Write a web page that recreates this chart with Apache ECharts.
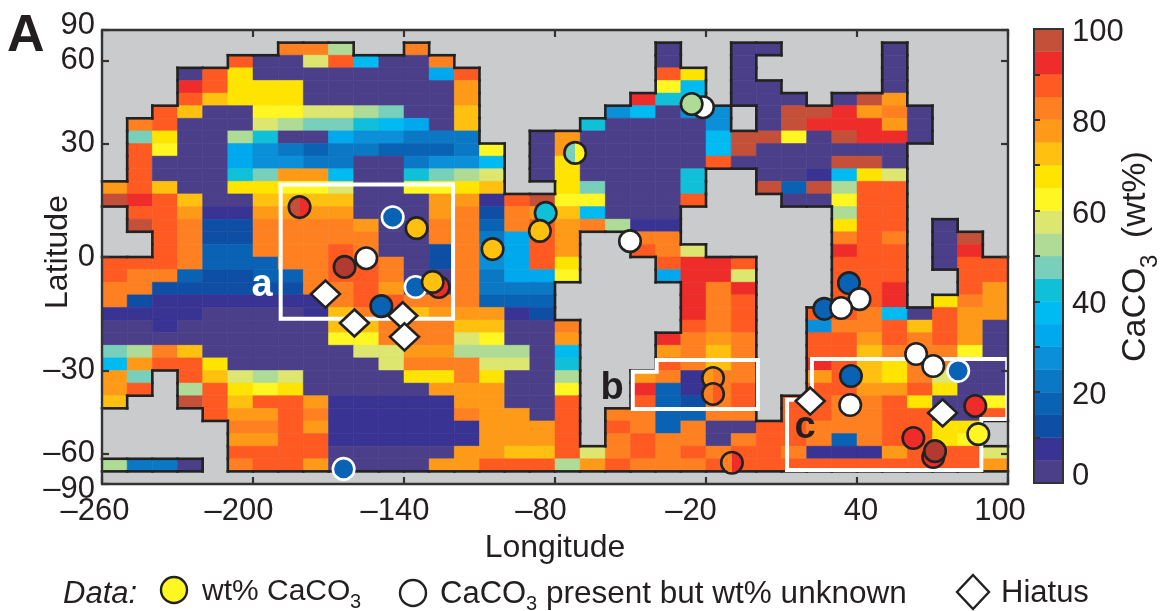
<!DOCTYPE html>
<html><head><meta charset="utf-8">
<style>html,body{margin:0;padding:0;background:#fff}#c{width:1166px;height:611px}</style>
<script src="https://cdn.jsdelivr.net/npm/echarts@6/dist/echarts.min.js"></script>
</head><body><div id="c"></div>
<script>
const _ = null;
const lonTicks = [-260,-200,-140,-80,-20,40,100];
const latTicks = [-90,-60,-30,0,30,60,90];
const barTicks = [0,10,20,30,40,50,60,70,80,90,100];
const barLabels = [0,20,40,60,80,100];
const levelColors = ['#4b3f8a','#393393','#0f4ea5','#0a62b5','#0a78c4','#0a8fd8','#00a8ee','#00baf2','#10c0d8','#78cfba','#aedc96','#dde66e','#fff622','#ffe400','#ffc010','#ff9a18','#ff8020','#ff5a22','#ee2c2a','#c4503a'];
// CaCO3 wt% per 10 deg x equal-area cell, north to south, null = land
const wtRows = [
[_,_,_,_,_,_,_,_,_,_,_,_,_,_,_,_,_,_,_,_,_,_,_,_,_,_,_,_,_,_,_,_,_,_,_,_],
[_,_,_,_,_,_,_,83,83,53,_,_,83,_,_,_,_,_,_,_,_,_,3,_,_,3,3,_,_,_,_,3,_,_,_,_],
[_,_,_,_,_,88,3,3,58,88,38,3,3,83,_,_,_,_,_,_,_,_,3,_,_,3,_,_,_,_,_,3,_,_,_,_],
[_,_,_,3,88,68,3,3,3,3,3,3,3,33,88,_,_,_,_,_,_,_,88,68,_,3,_,_,_,_,_,3,_,_,_,_],
[_,_,_,93,88,68,68,68,3,3,3,3,3,3,78,_,_,_,_,_,_,_,63,38,_,3,3,_,_,_,_,3,_,_,_,_],
[_,_,_,88,73,68,68,68,3,3,3,3,3,3,78,_,_,_,_,_,_,93,43,43,_,3,3,3,_,3,98,78,_,_,_,_],
[_,_,88,73,3,3,63,63,58,58,53,48,3,3,73,_,_,_,_,_,28,38,3,28,28,_,3,98,98,93,78,83,3,_,_,_],
[_,83,88,3,3,3,58,53,48,48,43,38,33,3,73,_,_,_,_,43,3,3,3,3,28,_,3,98,93,93,93,78,3,_,_,_],
[_,48,68,3,3,53,43,3,3,33,28,28,23,23,23,_,_,3,78,3,3,3,3,3,38,98,98,63,3,98,93,93,3,_,_,_],
[_,88,63,3,3,33,28,23,18,23,23,18,18,18,23,63,_,3,78,3,3,3,3,3,38,98,3,3,3,3,3,3,_,_,_,_],
[_,88,3,3,3,33,28,28,23,23,3,3,23,28,28,38,_,3,68,3,3,3,3,3,88,3,3,3,3,98,98,3,_,_,_,_],
[_,88,3,3,3,43,48,78,78,38,3,3,43,48,53,58,_,3,68,3,3,3,3,43,_,_,3,3,8,38,68,58,_,_,_,_],
[78,88,73,3,3,68,68,63,63,58,3,3,63,63,68,73,_,_,68,48,3,3,3,43,_,_,98,18,98,53,88,88,_,_,_,_],
[98,93,88,73,3,3,73,73,73,73,3,3,3,78,78,8,88,98,63,63,3,3,3,88,_,_,_,3,3,63,88,88,_,_,_,_],
[_,88,88,78,8,8,78,78,78,78,3,3,3,78,83,13,83,78,73,38,3,3,3,_,_,_,_,_,_,53,88,88,_,_,_,_],
[_,98,88,83,13,13,83,83,83,83,78,3,3,83,83,18,83,88,78,83,53,8,8,_,_,_,_,_,_,68,88,88,_,3,_,_],
[_,_,88,83,13,13,83,83,83,83,83,3,3,83,83,23,33,88,78,_,_,83,83,_,_,_,_,_,_,83,88,83,_,3,98,_],
[_,_,88,83,18,18,83,83,83,88,83,3,3,13,83,28,33,88,78,_,_,88,83,58,_,_,_,_,_,93,88,88,_,3,93,_],
[88,88,88,83,18,18,18,83,83,88,88,83,3,13,83,28,33,88,68,_,_,_,88,93,93,88,_,_,_,88,88,88,_,3,88,88],
[88,83,83,18,13,13,18,18,83,88,88,83,3,3,83,23,33,33,63,_,_,_,33,93,93,58,_,_,_,88,88,88,_,_,88,88],
[83,83,13,13,13,13,13,13,83,83,88,78,3,3,83,23,23,23,_,_,_,_,_,93,83,93,_,_,_,88,88,93,_,_,88,78],
[83,13,8,8,8,8,8,8,8,83,88,88,83,83,83,18,18,18,_,_,_,_,_,93,83,88,_,_,_,88,88,93,_,68,83,78],
[8,8,8,8,3,3,3,3,8,73,83,88,73,78,78,78,8,13,_,_,_,_,_,93,83,88,_,_,88,88,83,38,3,88,78,78],
[3,3,8,3,3,3,3,3,3,73,73,83,83,83,73,73,3,3,83,_,_,_,_,88,83,88,_,_,28,83,83,88,73,88,78,3],
[3,3,3,3,3,3,3,3,3,63,63,83,83,83,58,63,3,3,78,_,_,_,93,83,78,83,_,_,88,88,78,88,83,88,78,3],
[48,53,83,73,3,3,3,3,3,3,58,58,78,78,53,53,53,3,38,_,_,_,78,83,73,83,_,_,88,88,73,83,83,83,63,3],
[38,78,88,88,68,3,3,3,3,3,3,58,83,83,83,58,58,3,43,_,_,_,88,83,73,83,_,_,93,88,73,68,83,83,3,3],
[78,48,_,88,73,58,53,58,3,3,3,3,68,68,83,68,3,3,53,_,_,78,83,8,83,83,_,_,78,88,73,68,83,58,3,3],
[78,88,_,53,88,68,63,68,3,3,3,3,3,78,78,78,3,3,63,_,_,93,18,8,83,88,_,_,88,88,78,78,88,68,3,3],
[73,_,_,98,88,73,88,88,78,8,8,8,8,8,78,78,3,3,88,_,_,88,18,13,83,88,_,88,88,83,83,88,68,3,3,63],
[_,_,_,_,88,78,78,88,83,8,8,8,8,8,83,78,78,3,88,_,83,83,18,18,83,83,_,88,88,83,83,88,88,3,3,88],
[_,_,_,_,_,83,83,88,78,8,8,8,8,8,8,78,78,78,88,_,88,83,18,83,3,3,88,88,83,83,83,88,88,68,68,_],
[_,_,_,_,_,78,78,88,88,8,8,8,8,8,8,78,78,78,88,_,83,88,83,83,3,83,88,88,83,18,83,88,88,68,63,_],
[_,_,_,_,_,88,88,88,88,3,3,3,3,3,78,78,73,73,88,58,83,88,83,88,83,88,88,83,8,8,8,78,88,88,88,58],
[53,23,23,3,_,83,88,88,78,3,3,3,3,78,78,88,88,88,53,78,88,83,83,83,88,88,88,88,88,88,88,88,88,88,88,78],
[_,_,_,_,_,_,_,_,_,_,_,_,_,_,_,_,_,_,_,_,_,_,_,_,_,_,_,_,_,_,_,_,_,_,_,_]
];
// core sites: lon, lat, left-half wt%, right-half wt% (null = present but unknown), ring colour
const siteLon   = [-181.5,-144.5,-135,-163.6,-155,-104.8,-83.7,-86,-72,-21.2,-25.7,-50.2,-135.4,-126.2,-128.6,-149,-17.2,-17.2,-9.7,-164,36.8,27,41,33.7,80.2,63.5,70.3,37.6,37.3,87,88.2,62.4,70.3,71];
const siteLat   = [12.7,10.1,7.3,-2.5,-0.3,2,11.2,6.6,27.3,41.3,42.4,4,-7.6,-7.6,-6.3,-12.5,-32.2,-37.1,-65,-69,-6.6,-13.2,-10.7,-13,-30.1,-25.3,-28.7,-31.6,-40.7,-41,-51.3,-52.9,-61.8,-58.8];
const siteLeft  = [98,18,73,99,_,73,43,73,48,_,53,_,18,93,73,18,78,83,83,18,18,18,_,_,18,_,_,18,_,93,63,93,93,99];
const siteRight = [93,18,73,99,_,73,43,73,63,_,53,_,18,93,73,18,83,88,93,18,18,18,_,_,18,_,_,18,_,93,63,93,93,99];
const siteWhiteRing = [0,1,0,0,0,0,0,0,0,0,0,0,1,0,0,0,0,0,0,1,0,0,0,0,1,0,0,0,0,0,0,0,0,0];
const hiatusLon = [-171.2,-159.7,-140.5,-139.8,21.4,74];
const hiatusLat = [-9.4,-16.9,-15,-20.6,-39.4,-43.4];
// white outlined regions a, b, c as lon/lat vertices
const boxA = {lon:[-189,-120.5,-120.5,-189], lat:[18.6,18.6,-15.8,-15.8]};
const boxB = {lon:[-49.1,-39.6,-39.6,0.6,0.6,-49.1], lat:[-30.4,-30.4,-27,-27,-42,-42]};
const boxC = {lon:[22.1,99.7,99.7,89.4,89.4,12.2,12.2,22.1], lat:[-26.7,-26.7,-45.5,-45.5,-69.7,-69.7,-39,-39]};
// horizontal px nudges of the lon tick labels as printed
const lonLabelShift = [-7,-14,-9,-14,-15,4,-8];

const INK = '#231f20', FONT = '"Liberation Sans", Arial, sans-serif', TICK = 31;
const sinLat = d => Math.sin(d * Math.PI / 180);
const colorOf = v => levelColors[Math.min(19, Math.floor(v / 5))];
const siteColor = v => v >= 99 ? '#b23a30' : colorOf(v);

const NR = wtRows.length, NC = wtRows[0].length;
const rowTop = r => 1 - 2 * r / NR;
const colLon = c => -260 + 10 * c;
const cells = [], coast = [];
const land = (r, c) => (r < 0 || r >= NR || c < 0 || c >= NC) ? false : wtRows[r][c] === null;
wtRows.forEach((row, r) => row.forEach((v, c) => {
  if (v === null) return;
  const x0 = colLon(c), x1 = colLon(c + 1), y0 = rowTop(r), y1 = rowTop(r + 1);
  cells.push([x0, y0, x1, y1, v]);
  if (land(r - 1, c)) coast.push([x0, y0, x1, y0]);
  if (land(r + 1, c)) coast.push([x0, y1, x1, y1]);
  if (land(r, c - 1)) coast.push([x0, y0, x0, y1]);
  if (land(r, c + 1)) coast.push([x1, y0, x1, y1]);
}));

const circleData = siteLon.map((lon, i) => {
  const L = siteLeft[i], R = siteRight[i];
  let color = '#fff';
  if (L !== null) {
    const a = siteColor(L), b = siteColor(R);
    color = a === b ? a : {type:'linear',x:0,y:0,x2:1,y2:0,colorStops:[{offset:0,color:a},{offset:.5,color:a},{offset:.5,color:b},{offset:1,color:b}]};
  }
  return {value:[lon, sinLat(siteLat[i])], itemStyle:{color, opacity:1, borderColor: siteWhiteRing[i] ? '#fff' : '#222', borderWidth: 2.6}};
});
const hiatusData = hiatusLon.map((lon, i) => [lon, sinLat(hiatusLat[i])]);

const boxSeries = [boxA, boxB, boxC].map(b => ({
  type:'custom', xAxisIndex:0, yAxisIndex:0, z:6, silent:true, clip:false,
  data: [0],
  renderItem: (p, api) => ({
    type:'polygon',
    shape:{points: b.lon.map((lon, i) => api.coord([lon, sinLat(b.lat[i])]))},
    style:{fill:'none', stroke:'#fff', lineWidth:4, lineJoin:'miter'}
  })
}));

const axisLine = {show:true, onZero:false, lineStyle:{color:'#333', width:2.4}};
const inTick = {show:true, inside:true, length:7, lineStyle:{color:'#333', width:2.2}, customValues:lonTicks};
const inTickY = {show:true, inside:true, length:7, lineStyle:{color:'#333', width:2.2}, customValues:latTicks.map(sinLat)};

const t = (x, y, text, extra = {}) => ({
  type:'text', x, y, z:50, silent:true, rotation: extra.rotation || 0,
  style:Object.assign({text, fill:INK, font:`${extra.size||31}px ${FONT}`, textAlign:'left', textVerticalAlign:'middle'}, extra.style||{})
});

const option = {
  animation:false,
  backgroundColor:'#fff',
  grid:[
    {left:102, top:30, width:906, height:454, show:true, backgroundColor:'#cacbcd', borderWidth:0},
    {left:1034, top:29, width:29, height:454}
  ],
  xAxis:[
    {type:'value', gridIndex:0, min:-260, max:100, position:'bottom', z:10, name:'Longitude', nameLocation:'middle', nameGap:45,
     nameTextStyle:{fontFamily:FONT, fontSize:32, color:INK},
     axisLine, axisTick:inTick, splitLine:{show:false},
     axisLabel:{customValues:lonTicks, color:INK, fontFamily:FONT, fontSize:TICK, margin:12, hideOverlap:false, showMinLabel:true, showMaxLabel:true,
       formatter:v => {
         const i = lonTicks.indexOf(v), txt = String(v).replace('-', '\u2013');
         return `{s${i}|${txt}}`;
       },
       rich:Object.fromEntries(lonLabelShift.map((s, i) => [`s${i}`, {fontFamily:FONT, fontSize:TICK, color:INK, padding: s < 0 ? [0, -2*s, 0, 0] : [0, 0, 0, 2*s]}]))
     }},
    {type:'value', gridIndex:0, min:-260, max:100, position:'top', z:10, axisLine, axisTick:inTick, axisLabel:{show:false}, splitLine:{show:false}},
    {type:'value', gridIndex:1, min:0, max:1, show:false}
  ],
  yAxis:[
    {type:'value', gridIndex:0, min:-1, max:1, position:'left', z:10, axisLine, axisTick:inTickY, splitLine:{show:false},
     axisLabel:{customValues:latTicks.map(sinLat), margin:7, hideOverlap:false, showMinLabel:true, showMaxLabel:true,
       fontFamily:FONT, fontSize:TICK, color:INK,
       formatter:v => {
         const d = Math.round(Math.asin(v) * 180 / Math.PI), txt = String(d).replace('-', '\u2013');
         return d === 90 ? `{up|${txt}}` : d === -90 ? `{dn|${txt}}` : `{m|${txt}}`;
       },
       rich:{
         up:{fontFamily:FONT, fontSize:TICK, color:INK, padding:[0,0,10,0]},
         dn:{fontFamily:FONT, fontSize:TICK, color:INK, padding:[10,0,0,0]},
         m:{fontFamily:FONT, fontSize:TICK, color:INK}
       }}},
    {type:'value', gridIndex:0, min:-1, max:1, position:'right', z:10, axisLine, axisTick:inTickY, axisLabel:{show:false}, splitLine:{show:false}},
    {type:'value', gridIndex:1, min:0, max:100, position:'right', z:10,
     axisLine:{show:false}, splitLine:{show:false},
     axisTick:{show:true, length:6, customValues:barTicks, lineStyle:{color:'#333', width:2}},
     axisLabel:{customValues:barLabels, margin:9, hideOverlap:false, showMinLabel:true, showMaxLabel:true,
       formatter:v => v === 0 ? `{z|${v}}` : `{n|${v}}`,
       fontFamily:FONT, fontSize:TICK, color:INK,
       rich:{
         z:{fontFamily:FONT, fontSize:TICK, color:INK, padding:[0,0,14,0]},
         n:{fontFamily:FONT, fontSize:TICK, color:INK, padding:[7,0,0,0]}
       }}}
  ],
  series:[
    {type:'custom', xAxisIndex:0, yAxisIndex:0, z:2, silent:true, data:cells,
     renderItem:(p, api) => {
       const a = api.coord([api.value(0), api.value(1)]), b = api.coord([api.value(2), api.value(3)]);
       const col = colorOf(api.value(4));
       return {type:'rect', shape:{x:a[0], y:a[1], width:b[0]-a[0], height:b[1]-a[1]}, style:{fill:col, stroke:col, lineWidth:0.5}};
     }},
    {type:'custom', xAxisIndex:0, yAxisIndex:0, z:3, silent:true, data:coast,
     renderItem:(p, api) => {
       const a = api.coord([api.value(0), api.value(1)]), b = api.coord([api.value(2), api.value(3)]);
       return {type:'line', shape:{x1:a[0], y1:a[1], x2:b[0], y2:b[1]}, style:{stroke:'#222', lineWidth:2.6, lineCap:'square'}};
     }},
    ...boxSeries,
    {type:'scatter', xAxisIndex:0, yAxisIndex:0, z:7, silent:true, symbol:'circle', symbolSize:21.5, data:circleData},
    {type:'scatter', xAxisIndex:0, yAxisIndex:0, z:8, silent:true, symbol:'diamond', symbolSize:[29,27],
     itemStyle:{color:'#fff', opacity:1, borderColor:'#222', borderWidth:2.6}, data:hiatusData},
    {type:'custom', xAxisIndex:2, yAxisIndex:2, z:2, silent:true, data:levelColors.map((c, i) => [i * 5, (i + 1) * 5]),
     renderItem:(p, api) => {
       const a = api.coord([0, api.value(1)]), b = api.coord([1, api.value(0)]);
       const col = levelColors[p.dataIndex];
       return {type:'rect', shape:{x:a[0], y:a[1], width:b[0]-a[0], height:b[1]-a[1]}, style:{fill:col, stroke:col, lineWidth:0.4}};
     }}
  ],
  graphic:[
    {type:'rect', z:40, silent:true, shape:{x:1034, y:29, width:29, height:454}, style:{fill:'none', stroke:'#333', lineWidth:2}},
    t(7, 37, 'A', {size:52, style:{font:`bold 52px ${FONT}`}}),
    t(262, 286, 'a', {style:{font:`bold 38px ${FONT}`, fill:'#fff', textAlign:'center'}}),
    t(612, 389, 'b', {style:{font:`bold 38px ${FONT}`, textAlign:'center'}}),
    t(805, 428, 'c', {style:{font:`bold 38px ${FONT}`, textAlign:'center'}}),
    t(58, 252, 'Latitude', {rotation:Math.PI/2, size:32, style:{textAlign:'center'}}),
    // colour bar title
    t(1136, 362, 'CaCO', {rotation:Math.PI/2, size:34}),
    t(1150, 268, '3', {rotation:Math.PI/2, size:24}),
    t(1136, 238, '(wt%)', {rotation:Math.PI/2, size:34}),
    // data key
    t(63, 594, 'Data:', {style:{font:`italic 31px ${FONT}`}}),
    {type:'circle', z:50, silent:true, shape:{cx:174, cy:590, r:13}, style:{fill:'#fff622', stroke:'#222', lineWidth:2.4}},
    t(202, 592, 'wt% CaCO', {size:30}),
    t(350, 602, '3', {size:20}),
    {type:'circle', z:50, silent:true, shape:{cx:413, cy:593, r:13}, style:{fill:'#fff', stroke:'#222', lineWidth:2.4}},
    t(440, 594, 'CaCO', {size:31}),
    t(526, 604, '3', {size:20}),
    t(546, 594, 'present but wt% unknown', {size:31.5}),
    {type:'polygon', z:50, silent:true, shape:{points:[[973,575],[989,592],[973,609],[957,592]]}, style:{fill:'#fff', stroke:'#222', lineWidth:2.4}},
    t(1001, 593, 'Hiatus', {size:31})
  ]
};
const chart = echarts.init(document.getElementById('c'), null, {renderer:'canvas'});
chart.setOption(option);
</script></body></html>
